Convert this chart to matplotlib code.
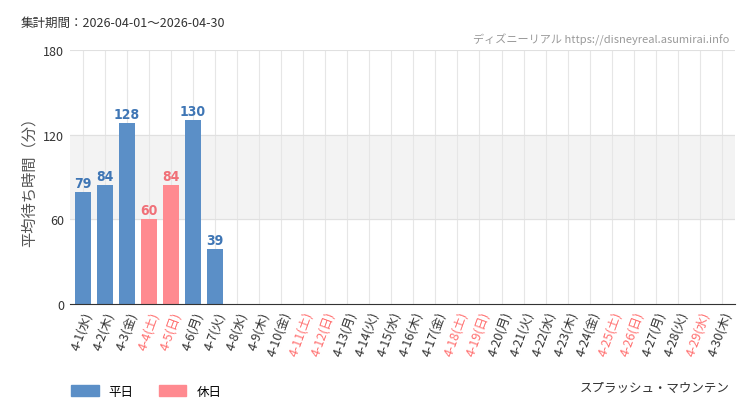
import matplotlib.pyplot as plt
import matplotlib.patches as mpatches

plt.rcParams['font.family'] = ['Noto Sans CJK JP', 'DejaVu Sans']

days = list(range(1, 31))
weekdays = ['水', '木', '金', '土', '日', '月', '火']
values = [79, 84, 128, 60, 84, 130, 39]
holidays = [4, 5, 11, 12, 18, 19, 25, 26, 29]

blue = '#5b8fc7'
pink = '#ff8a90'
red_txt = '#ff7070'

fig = plt.figure(figsize=(7.5, 4.1), dpi=100)
ax = fig.add_axes([0.093, 0.256, 0.887, 0.62])

ax.axhspan(60, 120, color='#f3f3f3', zorder=0)
for d in days:
    ax.axvline(d, color='#e6e6e6', lw=0.8, zorder=0)
for y in (60, 120, 180):
    ax.axhline(y, color='#e0e0e0', lw=0.8, zorder=0)

for i, v in enumerate(values):
    d = i + 1
    c = pink if d in holidays else blue
    tc = '#f07078' if d in holidays else '#3f76b5'
    ax.bar(d, v, width=0.7, color=c, zorder=2)
    ax.text(d, v + 1.5, str(v), ha='center', va='bottom', color=tc,
            fontsize=10, family='DejaVu Sans', fontweight='bold',
            fontstretch='condensed', zorder=3)

ax.set_xlim(0.4, 30.6)
ax.set_ylim(0, 180)
ax.set_yticks([0, 60, 120, 180])
ax.set_yticklabels(['0', '60', '120', '180'], fontsize=9, color='#333333')
ax.set_xticks(days)
labels = [f'4-{d}({weekdays[(d - 1) % 7]})' for d in days]
ax.set_xticklabels(labels, rotation=70, ha='right', rotation_mode='anchor', fontsize=9)
for d, t in zip(days, ax.get_xticklabels()):
    t.set_color(red_txt if d in holidays else '#333333')
ax.tick_params(length=0, pad=4)
for s in ['top', 'right', 'left']:
    ax.spines[s].set_visible(False)
ax.spines['bottom'].set_color('#333333')
ax.set_ylabel('平均待ち時間（分）', fontsize=11, color='#555555')

fig.text(0.027, 0.935, '集計期間：2026-04-01～2026-04-30', fontsize=9, color='#333333')
fig.text(0.973, 0.895, 'ディズニーリアル https://disneyreal.asumirai.info', fontsize=8,
         color='#999999', ha='right')
fig.text(0.973, 0.045, 'スプラッシュ・マウンテン', fontsize=9, color='#333333', ha='right')

h = [mpatches.Patch(color=blue, label='平日'), mpatches.Patch(color=pink, label='休日')]
fig.legend(handles=h, loc='lower left', bbox_to_anchor=(0.08, 0.0), ncol=2,
           frameon=False, fontsize=9, handlelength=2.2, handleheight=0.9)

fig.savefig('out.png')
